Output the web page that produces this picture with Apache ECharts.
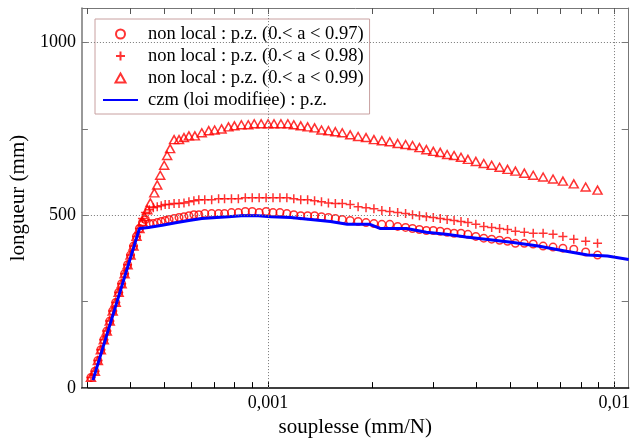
<!DOCTYPE html>
<html><head><meta charset="utf-8">
<script src="https://cdn.jsdelivr.net/npm/echarts@6/dist/echarts.min.js"></script>
<style>html,body{margin:0;padding:0;background:#fff}#c{width:633px;height:443px}</style>
</head><body><div id="c"></div>
<script>
// ---- axes ----
const xMin = 0.00029, xMax = 0.011;
const yMin = 0, yMax = 1100;
const xTickValues = [0.0003,0.0004,0.0005,0.0006,0.0007,0.0008,0.0009,0.001,0.002,0.003,0.004,0.005,0.006,0.007,0.008,0.009,0.01];
const xLabelValues = [0.001, 0.01];
const xLabelTexts = ['0,001', '0,01'];
const yTickValues = [0, 250, 500, 750, 1000];
const yLabelValues = [0, 500, 1000];
const xGrid = [0.001, 0.01];
const yGrid = [500, 1000];
const xTitle = 'souplesse (mm/N)';
const yTitle = 'longueur (mm)';
const names = ['non local : p.z. (0.< a < 0.97)', 'non local : p.z. (0.< a < 0.98)', 'non local : p.z. (0.< a < 0.99)', 'czm (loi modifiee) : p.z.'];

// ---- data: shared elastic rise of the non local curves ----
const xRise = [0.000308,0.0003162,0.0003225,0.0003289,0.0003355,0.0003422,0.000349,0.0003559,0.0003631,0.0003703,0.0003777,0.0003852,0.0003929,0.0004007,0.0004087,0.0004169,0.0004252];
const yRise = [31,49,80,111,140,165,194,223,248,277,302,331,357,385,411,439,462];

// a < 0.97 (circles)
const x097 = [0.0004337,0.0004423,0.0004541,0.0004662,0.0004786,0.0004914,0.0005045,0.0005179,0.0005353,0.0005532,0.0005717,0.0005908,0.0006106,0.000631,0.0006564,0.0006873,0.0007197,0.0007487,0.000784,0.0008208,0.0008596,0.0009001,0.0009425,0.000987,0.0010334,0.0010822,0.0011331,0.0011866,0.0012426,0.0013009,0.0013624,0.0014265,0.0014938,0.0015643,0.0016378,0.0017264,0.0018198,0.0019182,0.0020216,0.002131,0.0022461,0.0023676,0.0024954,0.0026131,0.0027362,0.0028651,0.0030002,0.0031416,0.0032897,0.0034447,0.0036069,0.003777,0.0039811,0.0041965,0.004423,0.0046623,0.0049143,0.0051793,0.0054956,0.0058308,0.0062274,0.006651,0.0071027,0.0076356,0.0082634,0.0089418];
const y097 = [479,488,476,476,479,482,485,488,491,494,496,499,502,502,505,505,505,505,508,508,511,511,508,511,508,508,505,502,499,499,499,496,494,491,488,485,482,479,476,474,474,468,465,462,459,456,456,454,451,448,448,445,439,434,431,428,425,419,419,417,411,408,405,402,394,385];

// a < 0.98 (crosses)
const x098 = [0.0004337,0.0004423,0.0004541,0.0004662,0.0004786,0.0004914,0.0005045,0.0005179,0.0005353,0.0005532,0.0005717,0.0005908,0.0006106,0.000631,0.0006564,0.0006873,0.0007197,0.0007487,0.000784,0.0008208,0.0008596,0.0009001,0.0009425,0.000987,0.0010334,0.0010822,0.0011331,0.0011866,0.0012426,0.0013009,0.0013624,0.0014265,0.0014938,0.0015643,0.0016378,0.0017264,0.0018198,0.0019182,0.0020216,0.002131,0.0022461,0.0023676,0.0024954,0.0026131,0.0027362,0.0028651,0.0030002,0.0031416,0.0032897,0.0034447,0.0036069,0.003777,0.0039811,0.0041965,0.004423,0.0046623,0.0049143,0.0051793,0.0054956,0.0058308,0.0062274,0.006651,0.0071027,0.0076356,0.0082634,0.0089418];
const y098 = [491,508,516,522,525,528,531,531,534,534,536,539,542,545,545,545,548,548,548,548,551,551,551,551,551,551,551,548,545,545,542,539,536,534,534,531,525,522,519,514,511,508,505,502,499,496,494,491,488,485,482,479,474,468,465,462,459,454,451,448,448,445,439,431,425,419];

// a < 0.99 (triangles)
const x099 = [0.0004337,0.0004394,0.0004481,0.0004571,0.0004693,0.0004786,0.0004882,0.0005012,0.0005112,0.0005214,0.0005353,0.0005532,0.0005717,0.0005908,0.0006146,0.0006436,0.0006739,0.000701,0.0007341,0.0007686,0.0007995,0.0008373,0.0008767,0.000912,0.000955,0.001,0.0010403,0.0010893,0.0011406,0.0011866,0.0012426,0.0013009,0.0013624,0.0014265,0.0014938,0.0015643,0.0016378,0.0017264,0.0018198,0.0019182,0.0020216,0.002131,0.0022461,0.0023676,0.0024954,0.0026131,0.0027362,0.0028651,0.0030002,0.0031416,0.0032897,0.0034447,0.0036069,0.003777,0.0039811,0.0041965,0.004423,0.0046623,0.0049143,0.0051793,0.0054956,0.0058308,0.0062274,0.006651,0.0071027,0.0076356,0.0082634,0.0089418];
const y099 = [482,496,516,536,565,588,616,645,673,693,719,719,725,730,730,739,745,747,750,756,759,762,762,765,765,765,765,765,765,762,759,756,753,747,745,742,739,733,728,725,719,716,713,708,705,702,696,690,685,682,676,673,668,662,656,650,645,639,633,628,622,616,611,605,599,591,582,573];

// czm (line)
const xCzm = [0.0003121,0.0004252,0.0004511,0.0004947,0.000546,0.0005908,0.0006436,0.0007103,0.0007686,0.0008373,0.0009363,0.0010199,0.0011634,0.001327,0.0015136,0.0016927,0.0019693,0.0021033,0.0025119,0.0028651,0.0032679,0.0037276,0.0042518,0.005045,0.0060258,0.0071969,0.0083731,0.0095502,0.011];
const yCzm = [23,462,465,471,479,485,491,494,496,499,499,496,494,488,482,474,474,462,462,451,445,437,431,422,411,397,385,382,372];

// ---- build ----
const L = Math.log10;
const pts = (xs, ys) => xs.map((x, i) => [L(x), ys[i]]);
const FONT = 'Liberation Serif';
const red = '#ff0000', blue = '#0000ff';
const markerStyle = {color: 'rgba(0,0,0,0)', borderColor: red, borderWidth: 1.5};
const crossPath = 'path://M5,0L5,10M0,5L10,5';
const triPath = 'path://M5,0L10,9L0,9Z';

const chart = echarts.init(document.getElementById('c'), null, {renderer: 'canvas'});
chart.setOption({
  animation: false,
  backgroundColor: '#fff',
  grid: {left: 78, right: 1, top: 8, bottom: 49},
  legend: {
    orient: 'vertical', left: 95, top: 19, padding: [5, 6, 4, 7],
    itemWidth: 35, itemHeight: 9, itemGap: 2, symbolKeepAspect: true,
    borderColor: '#c8a0a0', borderWidth: 1, backgroundColor: '#fff',
    selectedMode: false,
    data: [
      {name: names[0]},
      {name: names[1]},
      {name: names[2]},
      {name: names[3], itemStyle: {opacity: 0}}
    ],
    textStyle: {fontFamily: FONT, fontSize: 18.5, color: '#000', lineHeight: 20, padding: [0, 0, 0, 5]}
  },
  xAxis: [{
    type: 'value', position: 'bottom', min: L(xMin), max: L(xMax),
    axisLine: {onZero: false, lineStyle: {color: '#000', width: 1.5}},
    axisTick: {inside: true, length: 6, customValues: xTickValues.map(L), lineStyle: {color: '#000', width: 1}},
    axisLabel: {customValues: xLabelValues.map(L), margin: 6, fontFamily: FONT, fontSize: 18, color: '#000',
      formatter: v => { const i = xLabelValues.findIndex(t => Math.abs(L(t) - v) < 1e-6); return i >= 0 ? xLabelTexts[i] : ''; }},
    splitLine: {show: false},
    name: xTitle, nameLocation: 'middle', nameGap: 27,
    nameTextStyle: {fontFamily: FONT, fontSize: 21, color: '#000'}
  }, {
    type: 'value', position: 'top', min: L(xMin), max: L(xMax),
    axisLine: {onZero: false, lineStyle: {color: '#777', width: 1}},
    axisTick: {inside: true, length: 6, customValues: xTickValues.map(L), lineStyle: {color: '#555', width: 1}},
    axisLabel: {show: false}, splitLine: {show: false}
  }],
  yAxis: [{
    type: 'value', position: 'left', min: yMin, max: yMax,
    axisLine: {show: true, onZero: false, lineStyle: {color: '#777', width: 1.5}},
    axisTick: {show: true, inside: true, length: 6, customValues: yTickValues, lineStyle: {color: '#777', width: 1}},
    axisLabel: {customValues: yLabelValues, margin: 6, fontFamily: FONT, fontSize: 18, color: '#000',
      formatter: v => String(v)},
    splitLine: {show: false},
    name: yTitle, nameLocation: 'middle', nameGap: 41,
    nameTextStyle: {fontFamily: FONT, fontSize: 21, color: '#000'}
  }, {
    type: 'value', position: 'right', min: yMin, max: yMax,
    axisLine: {show: true, onZero: false, lineStyle: {color: '#777', width: 1}},
    axisTick: {show: true, inside: true, length: 7, customValues: yTickValues.slice(1), lineStyle: {color: '#777', width: 1}},
    axisLabel: {show: false}, splitLine: {show: false}
  }],
  series: [{
    type: 'line', name: 'grid', data: [], z: 1, silent: true,
    markLine: {
      silent: true, symbol: 'none', label: {show: false},
      lineStyle: {color: '#777', type: [1, 2], width: 1},
      data: xGrid.map(v => ({xAxis: L(v)})).concat(yGrid.map(v => ({yAxis: v})))
    }
  }, {
    type: 'scatter', name: names[0], data: pts(xRise.concat(x097), yRise.concat(y097)),
    symbol: 'circle', symbolSize: 7.5, itemStyle: markerStyle, z: 2
  }, {
    type: 'scatter', name: names[1], data: pts(xRise.concat(x098), yRise.concat(y098)),
    symbol: crossPath, symbolSize: 9, itemStyle: markerStyle, z: 2
  }, {
    type: 'scatter', name: names[2], data: pts(xRise.concat(x099), yRise.concat(y099)),
    symbol: triPath, symbolSize: [9, 8], itemStyle: markerStyle, z: 2
  }, {
    type: 'line', name: names[3], data: pts(xCzm, yCzm),
    symbol: 'none', showSymbol: false, lineStyle: {color: blue, width: 3}, itemStyle: {color: blue}, z: 3
  }]
});
</script>
</body></html>
